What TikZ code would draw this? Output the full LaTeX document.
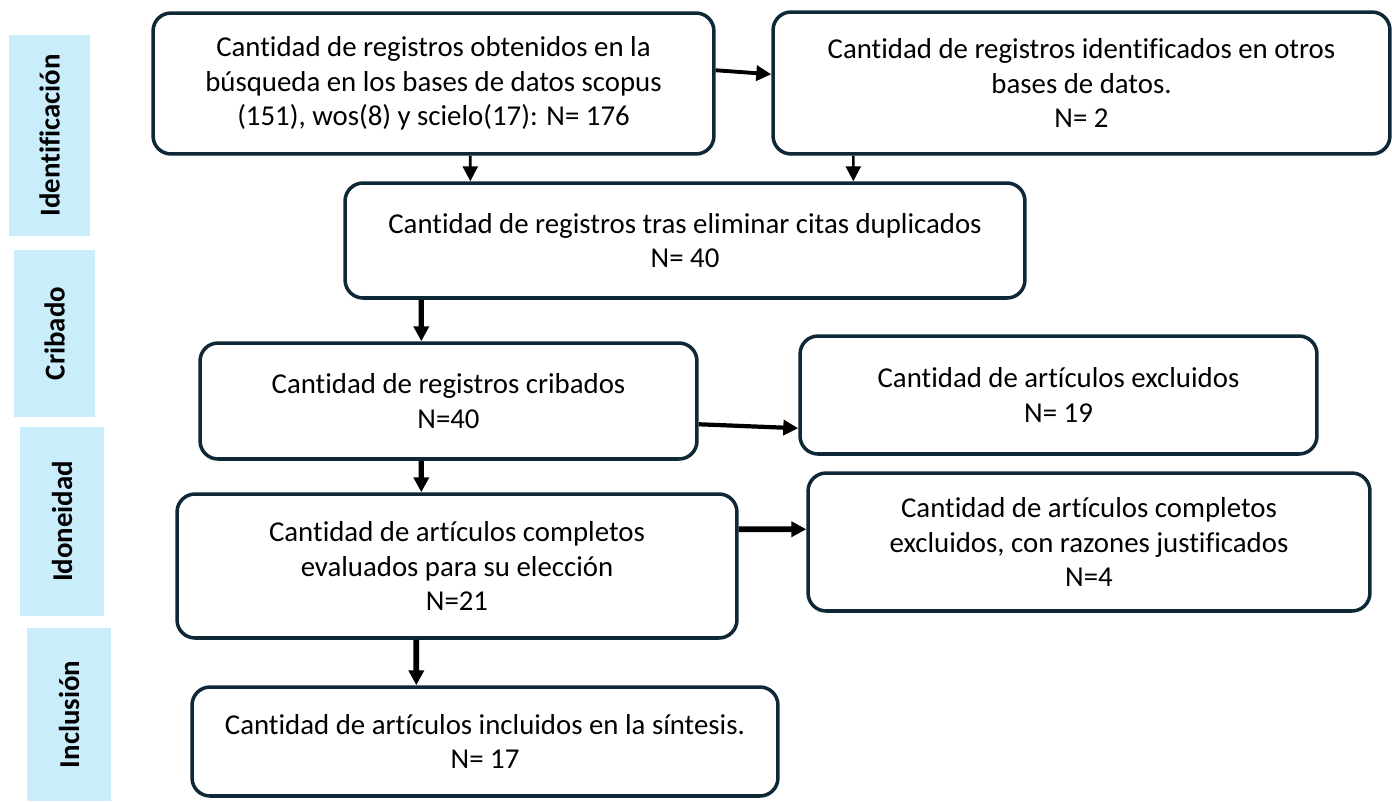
\documentclass[tikz,border=0pt]{standalone}
\usepackage{fontspec}
\setmainfont{Carlito}[Ligatures=NoCommon]
\usetikzlibrary{arrows.meta,calc}
\definecolor{boxline}{RGB}{14,40,56}
\definecolor{phasefill}{RGB}{202,237,251}
\tikzset{
	box/.style={draw=boxline, line width=2pt, rounded corners=0.36cm, align=center, inner sep=0pt},
	phase/.style={fill=phasefill, rotate=90, font=\fontsize{16.4}{19.8}\selectfont\bfseries, inner sep=0pt},
	arr/.style={-{Triangle[length=0.3cm,width=0.3cm]}, line width=#1},
	arr/.default=1.5pt
}
\begin{document}
\begin{tikzpicture}[x=0.02cm, y=-0.02cm, font=\fontsize{16.4}{19.8}\selectfont]
	\useasboundingbox (0,0) rectangle (1392,801);

		\node[phase, minimum width=4.02cm, minimum height=1.62cm] (ident) at (49.5,135.5) {Identificación};
		\node[phase, minimum width=3.34cm, minimum height=1.62cm] (crib) at (54.5,333.5) {Cribado};
		\node[phase, minimum width=3.78cm, minimum height=1.68cm] (idon) at (62,521.5) {Idoneidad};
		\node[phase, minimum width=3.46cm, minimum height=1.68cm] (incl) at (69,714.5) {Inclusión};

		\node[box, minimum width=11.22cm, minimum height=2.82cm] (A) at (433.5,83.5) {Cantidad de registros obtenidos en la\\búsqueda en los bases de datos scopus\\(151), wos(8) y scielo(17): N= 176};
		\node[box, minimum width=12.34cm, minimum height=2.84cm] (B) at (1081.5,83) {Cantidad de registros identificados en otros\\bases de datos.\\N= 2};
		\node[box, minimum width=13.6cm, minimum height=2.3cm] (C) at (685,240.5) {Cantidad de registros tras eliminar citas duplicados\\N= 40};
		\node[box, minimum width=9.94cm, minimum height=2.32cm] (D) at (448.5,401) {Cantidad de registros cribados\\N=40};
		\node[box, minimum width=10.34cm, minimum height=2.36cm] (E) at (1058.5,395) {Cantidad de artículos excluidos\\N= 19};
		\node[box, minimum width=11.2cm, minimum height=2.88cm] (F) at (457,566) {Cantidad de artículos completos\\evaluados para su elección\\N=21};
		\node[box, minimum width=11.24cm, minimum height=2.76cm] (G) at (1089,542) {Cantidad de artículos completos\\excluidos, con razones justificados\\N=4};
		\node[box, minimum width=11.72cm, minimum height=2.18cm] (H) at (485,741.5) {Cantidad de artículos incluidos en la síntesis.\\N= 17};

	\draw[arr=2.2pt] ($(A.north east)+(0,59)$) -- ($(B.north west)+(0,64)$);
	\draw[arr] ($(A.south west)+(319,0)$) -- ($(C.north west)+(127,0)$);
	\draw[arr] ($(B.south west)+(82,0)$) -- ($(C.north west)+(510,0)$);
	\draw[arr=3pt] ($(C.south west)+(78,0)$) -- ($(D.north west)+(223,0)$);
	\draw[arr=2.4pt] ($(D.north east)+(0,83)$) -- ($(E.north west)+(0,94)$);
	\draw[arr=3pt] ($(D.south west)+(223,0)$) -- ($(F.north west)+(246,0)$);
	\draw[arr=3.2pt] ($(F.north east)+(0,37)$) -- ($(G.north west)+(0,58)$);
	\draw[arr=3.2pt] ($(F.south west)+(241,0)$) -- ($(H.north west)+(226,0)$);
\end{tikzpicture}
\end{document}
